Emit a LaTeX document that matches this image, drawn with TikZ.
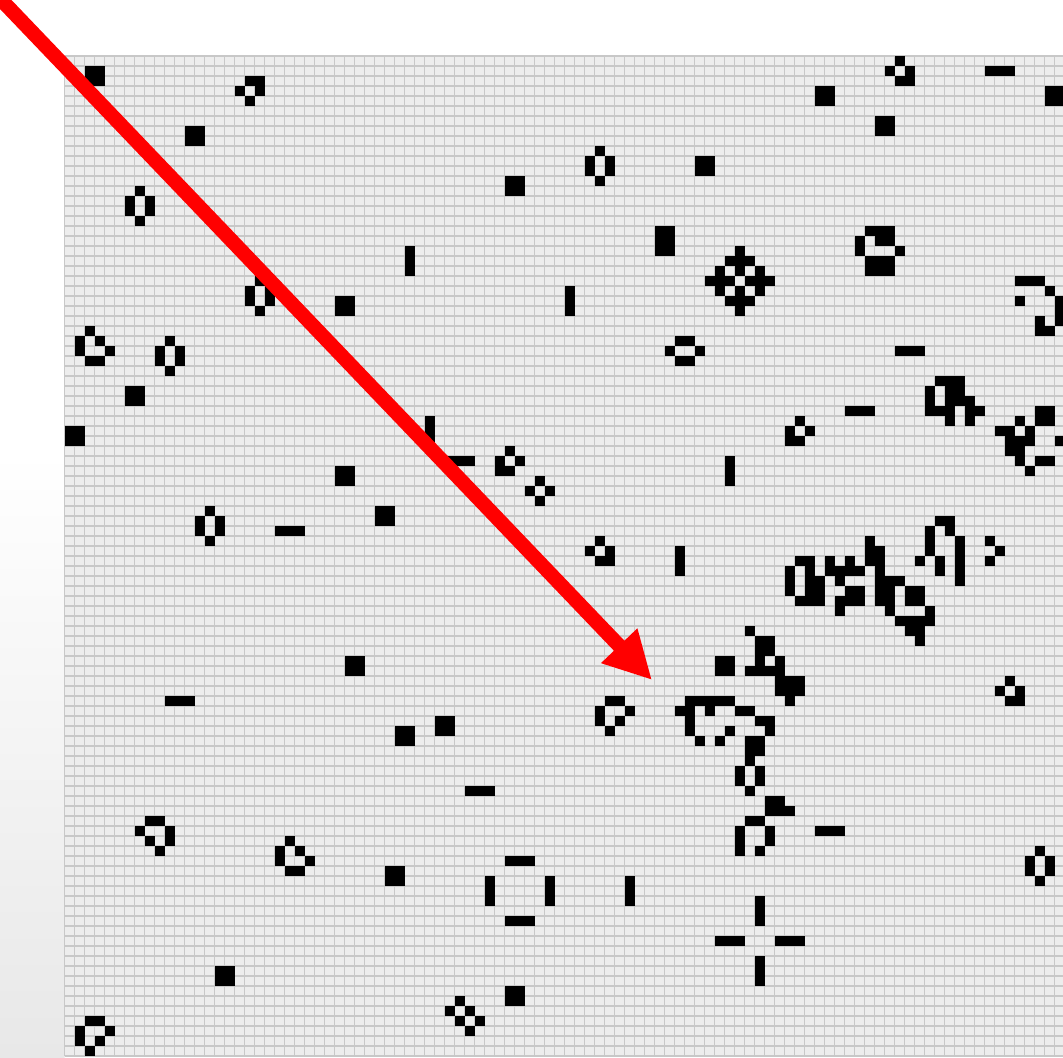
\documentclass[tikz,border=0pt]{standalone}
\usetikzlibrary{arrows.meta}
\definecolor{cellbg}{HTML}{EDEDED}
\definecolor{gridln}{HTML}{C8C8C8}
\definecolor{marginbot}{HTML}{E8E8E8}
\definecolor{arrowred}{HTML}{FF0000}
\begin{document}
\begin{tikzpicture}[x=0.75pt,y=-0.75pt,
  livecell/.style={fill=black},
  gridline/.style={draw=gridln,line width=1.1pt},
  redarrow/.style={draw=arrowred,line width=10.9pt,-{Triangle[length=35.6pt,width=35pt]}}]
\useasboundingbox (0,0) rectangle (1063,1057);
\clip (0,0) rectangle (1063,1057);
\fill[white] (0,0) rectangle (1063,1057);
\shade[top color=white,bottom color=marginbot] (0,450) rectangle (64.5,1057);
\fill[cellbg] (64.5,56) rectangle (1064.5,1056);
\foreach \k in {0,...,100} {
  \draw[gridline] (64.5+10*\k,56) -- (64.5+10*\k,1056);
  \draw[gridline] (64.5,56+10*\k) -- (1064.5,56+10*\k);
}
\foreach \r/\cs in {
0/{83},
1/{2,3,82,84,92,93,94},
2/{2,3,18,19,83,84},
3/{17,19,75,76,98,99},
4/{18,75,76,98,99},
6/{81,82},
7/{12,13,81,82},
8/{12,13},
9/{53},
10/{52,54,63,64},
11/{52,54,63,64},
12/{44,45,53},
13/{7,44,45},
14/{6,8},
15/{6,8},
16/{7},
17/{59,60,80,81,82},
18/{59,60,79,81,82},
19/{34,59,60,67,79,83},
20/{34,66,67,68,80,81,82},
21/{34,65,67,69,80,81,82},
22/{19,64,65,66,68,69,70,95,96,97},
23/{18,20,50,65,67,69,98},
24/{18,20,27,28,50,66,67,68,95,99},
25/{19,27,28,50,67,99},
26/{97,99},
27/{2,97,98},
28/{1,3,10,61,62},
29/{1,4,9,11,60,63,83,84,85},
30/{2,3,9,11,61,62},
31/{10},
32/{87,88,89},
33/{6,7,86,88,89},
34/{6,7,86,88,89,90},
35/{78,79,80,86,87,88,90,91,97,98},
36/{36,73,88,90,95,97,98},
37/{0,1,36,72,74,93,94,96},
38/{0,1,36,72,73,94,95,96,99},
39/{44,94,95},
40/{38,39,40,43,45,66,95,97,98},
41/{27,28,43,44,66,96},
42/{27,28,47,66},
43/{46,48},
44/{47},
45/{14,31,32},
46/{13,15,31,32,87,88},
47/{13,15,21,22,23,86,88},
48/{14,53,80,86,89,92},
49/{52,54,61,80,81,86,89,93},
50/{53,54,61,73,74,76,78,80,81,85,87,89,92},
51/{61,72,74,76,77,78,79,81,87,89},
52/{72,74,75,77,81,82,83,89},
53/{72,74,75,78,79,81,82,84,85},
54/{73,74,75,77,78,79,81,82,84,85},
55/{77,82,86},
56/{83,84,85,86},
57/{68,84,85},
58/{69,70,85},
59/{69,70},
60/{28,29,65,66,69,71},
61/{28,29,65,66,68,69,70,71},
62/{71,72,73,94},
63/{71,72,73,93,95},
64/{10,11,12,54,55,62,63,64,65,66,72,94,95},
65/{53,56,61,62,64,67,68},
66/{37,38,53,55,62,69,70},
67/{33,34,37,38,54,62,66,70},
68/{33,34,63,65,68,69},
69/{68,69},
70/{68},
71/{67,69},
72/{67,69},
73/{40,41,42,68},
74/{70,71},
75/{70,71,72},
76/{8,9,68,69},
77/{7,10,67,70,75,76,77},
78/{8,10,22,67,70},
79/{9,21,23,67,69,97},
80/{21,24,44,45,46,96,98},
81/{22,23,32,33,96,98},
82/{32,33,42,48,56,97},
83/{42,48,56},
84/{42,48,56,69},
85/{69},
86/{44,45,46,69},
88/{65,66,67,71,72,73},
90/{69},
91/{15,16,69},
92/{15,16,69},
93/{44,45},
94/{39,44,45},
95/{38,40},
96/{2,3,39,41},
97/{1,4,40},
98/{1,3},
99/{2}} {
  \foreach \c in \cs {
    \fill[livecell] (64.5+10*\c,56+10*\r) rectangle ++(10,10);
  }
}
\coordinate (astart) at (-11,-13);
\coordinate (atip) at (652,680);
\draw[redarrow] (astart) -- (atip);
\end{tikzpicture}
\end{document}
